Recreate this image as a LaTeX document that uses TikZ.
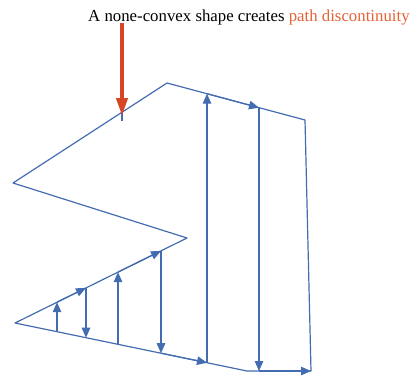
\documentclass[tikz,border=0pt]{standalone}
\usepackage{fontspec}
\setmainfont{Liberation Serif}
\usetikzlibrary{arrows.meta}
\definecolor{shapeblue}{RGB}{68,108,176}
\definecolor{redarrow}{RGB}{214,70,36}
\definecolor{orangetext}{RGB}{228,98,56}
\tikzset{
  edge/.style={draw=shapeblue, line width=1.2pt, line join=round},
  scan/.style={draw=shapeblue, line width=1.2pt, -{Triangle[length=10pt,width=8.5pt]}},
}
\begin{document}
\begin{tikzpicture}[x=1pt,y=-1pt]
\useasboundingbox (0,0) rectangle (412,378);
% polygon vertices
\coordinate (peak) at (167,83);
\coordinate (tr) at (305,120);
\coordinate (br) at (311,371);
\coordinate (bm) at (247,371);
\coordinate (lw) at (15,323);
\coordinate (tip) at (187,238);
\coordinate (ln) at (13,183);
\draw[edge] (peak) -- (tr) -- (br) -- (bm) -- (lw) -- (tip) -- (ln) -- cycle;
% scan path points
\coordinate (p1) at (57,331.7);
\coordinate (p2) at (57,302.2);
\coordinate (p3) at (86,287.9);
\coordinate (p4) at (86,337.7);
\coordinate (p5) at (118,344.3);
\coordinate (p6) at (118,272.1);
\coordinate (p7) at (161,250.9);
\coordinate (p8) at (161,353.2);
\coordinate (p9) at (207,362.7);
\coordinate (p10) at (207,93.7);
\coordinate (p11) at (259,107.7);
\coordinate (p12) at (259,371);
\coordinate (p13) at (311,371);
\draw[scan] (p1) -- (p2);
\draw[scan] (p2) -- (p3);
\draw[scan] (p3) -- (p4);
\draw[scan] (p5) -- (p6);
\draw[scan] (p6) -- (p7);
\draw[scan] (p7) -- (p8);
\draw[scan] (p8) -- (p9);
\draw[scan] (p9) -- (p10);
\draw[scan] (p10) -- (p11);
\draw[scan] (p11) -- (p12);
\draw[scan] (p12) -- (p13);
% title and red arrow
\node[anchor=base west, inner sep=0pt, font=\fontsize{16.8}{20}\selectfont] (title) at (88,21)
  {A none-convex shape creates \textcolor{orangetext}{path discontinuity}};
\coordinate (rs) at (122,23);
\coordinate (re) at (122,116);
\coordinate (ts) at (122,110);
\coordinate (te) at (122,121);
\draw[shapeblue, line width=1.2pt] (ts) -- (te);
\draw[redarrow, line width=4pt, -{Triangle[length=18pt,width=11pt]}] (rs) -- (re);
\end{tikzpicture}
\end{document}
